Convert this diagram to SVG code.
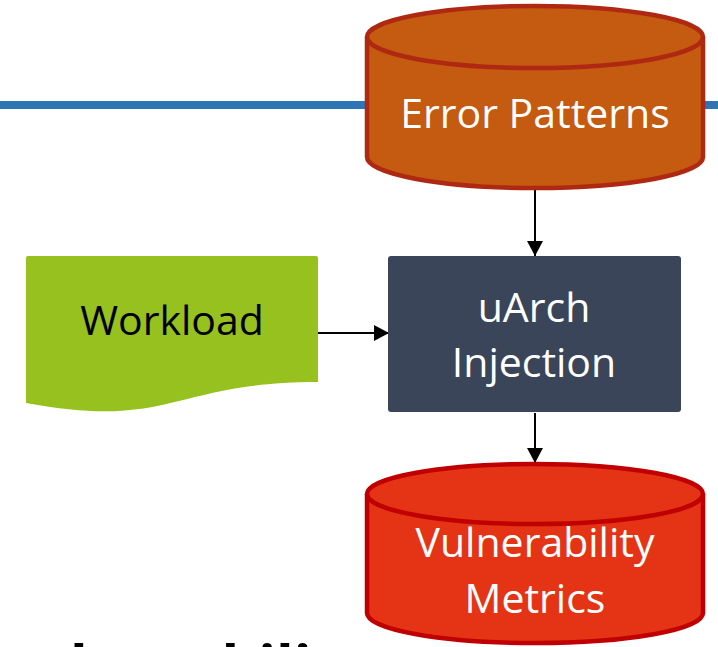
<svg xmlns="http://www.w3.org/2000/svg" width="718" height="647" viewBox="0 0 718 647">
  <defs>
    <marker id="arrow" markerUnits="userSpaceOnUse" markerWidth="16" markerHeight="16" refX="15" refY="8" orient="auto">
      <path d="M0,0 L15,8 L0,16 Z" fill="#000"/>
    </marker>
  </defs>
  <style>
    .lbl { font-family: "Open Sans", "DejaVu Sans", sans-serif; font-size: 41px; text-anchor: middle; }
    .white { fill: #ffffff; }
    .dark { fill: #000000; }
    .conn { stroke: #000; stroke-width: 2; fill: none; marker-end: url(#arrow); }
    .cyl-edge { fill: none; stroke-width: 4.5; }
  </style>

  <rect width="718" height="647" fill="#ffffff"/>

  <!-- header rule -->
  <rect x="0" y="101" width="718" height="8" fill="#2E75B6"/>

  <!-- heading running off the bottom edge -->
  <text x="-1" y="687" font-family="'Open Sans', 'DejaVu Sans', sans-serif" font-weight="bold" font-size="58" fill="#000">vulnerability</text>

  <g id="connectors">
    <path class="conn" d="M535,190 V256"/>
    <path class="conn" d="M316,333 H389"/>
    <path class="conn" d="M535,413 V463"/>
  </g>

  <g id="error-patterns">
    <path d="M367,37 A168,31 0 0 1 703,37 V157 A168,31 0 0 1 367,157 Z" fill="#C55A11" stroke="#AF2812" stroke-width="4.5"/>
    <path class="cyl-edge" d="M367,37 A168,31 0 0 0 703,37" stroke="#AF2812"/>
    <text class="lbl white" x="535" y="128">Error Patterns</text>
  </g>

  <g id="workload">
    <path d="M28,256 H316 Q318,256 318,258 V382 C172,382 172,430 26,403 V258 Q26,256 28,256 Z" fill="#96C11F"/>
    <text class="lbl dark" x="172" y="335">Workload</text>
  </g>

  <g id="uarch-injection">
    <rect x="388" y="256" width="293" height="156" rx="3" fill="#3A4559"/>
    <text class="lbl white" x="534" y="322">uArch</text>
    <text class="lbl white" x="534" y="377">Injection</text>
  </g>

  <g id="vulnerability-metrics">
    <path d="M367,494 A168,30 0 0 1 703,494 V613 A168,30 0 0 1 367,613 Z" fill="#E53415" stroke="#C00000" stroke-width="4.5"/>
    <path class="cyl-edge" d="M367,494 A168,30 0 0 0 703,494" stroke="#C00000"/>
    <text class="lbl white" x="535" y="557">Vulnerability</text>
    <text class="lbl white" x="535" y="613">Metrics</text>
  </g>
</svg>
